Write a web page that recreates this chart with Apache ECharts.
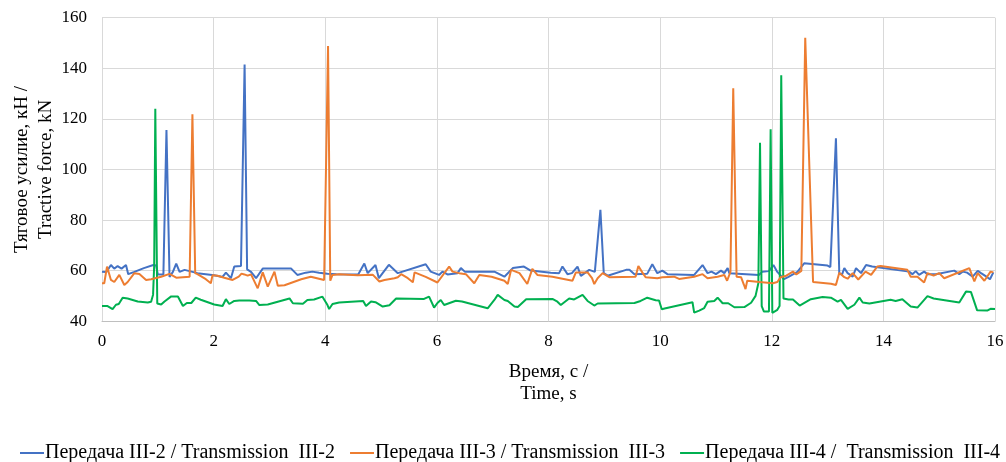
<!DOCTYPE html>
<html>
<head>
<meta charset="utf-8">
<script src="https://cdn.jsdelivr.net/npm/echarts@6/dist/echarts.min.js"></script>
<style>html,body{margin:0;padding:0;background:#fff}#c{width:1006px;height:462px}</style>
</head>
<body>
<div id="c"></div>
<script>
// Tick settings
const xTicks = [0, 2, 4, 6, 8, 10, 12, 14, 16];
const yTicks = [40, 60, 80, 100, 120, 140, 160];

const seriesNames = [
  'Передача III-2 / Transmission  III-2',
  'Передача III-3 / Transmission  III-3',
  'Передача III-4 /  Transmission  III-4'
];

// Передача III-2 (time, s / force, kN)
const t2 = [0,0.08,0.16,0.22,0.28,0.35,0.43,0.47,0.58,0.75,0.92,0.97,1.0,1.1,1.155,1.175,1.21,1.27,1.33,1.39,1.48,1.71,2.01,2.1,2.16,2.22,2.31,2.37,2.49,2.52,2.555,2.6,2.67,2.76,2.88,3.39,3.5,3.65,3.77,3.89,4.04,4.2,4.59,4.70,4.76,4.90,4.96,5.14,5.30,5.80,5.89,6.04,6.10,6.19,6.37,6.43,6.50,7.03,7.21,7.36,7.56,7.68,8.04,8.19,8.25,8.34,8.42,8.52,8.58,8.73,8.83,8.93,8.99,9.06,9.39,9.45,9.54,9.77,9.86,9.95,10.04,10.13,10.61,10.76,10.85,10.92,11.0,11.09,11.15,11.21,11.24,11.77,11.83,11.95,12.03,12.1,12.22,12.3,12.46,12.58,13.0,13.05,13.15,13.21,13.26,13.3,13.36,13.45,13.51,13.6,13.69,13.8,14.46,14.52,14.58,14.64,14.73,14.79,14.94,15.27,15.36,15.42,15.5,15.6,15.69,15.75,15.86,15.91,15.97];
const v2 = [59.6,59.5,62.2,60.8,61.8,60.8,62.2,58.6,59.5,61,62.2,62,58.5,58.5,115.6,115.6,57.5,59.5,62.8,59.5,60.3,59,58.2,57.8,57.5,59.2,57,61.6,61.8,62,141.5,60.5,59.5,57,60.8,60.8,58.3,59.2,59.6,59.2,58.8,58.6,58.5,62.8,59,62.2,57,62.3,59,62.5,59.6,58.3,59.6,58.5,59,61,59.6,59.6,57.6,61,61.6,60,59.2,59,61.6,58.6,59,61.6,57.9,60.3,59.5,84,59,58,60.3,60.3,58.6,58.8,62.5,59,60,58.6,58.3,62.2,59,59.6,58.6,60,59,61,59,58.3,59.6,59.8,62.2,59.5,56.6,57.5,59.5,62.9,62,61.4,112.3,58.8,58.5,61,59,57.6,61,59,62.2,61.6,59.6,58.6,59.8,58.3,59.6,58.6,58.6,60,58.6,59.6,59.2,57.6,59.9,59,57.4,56.6,59.3];

// Передача III-3
const t3 = [0,0.04,0.09,0.16,0.22,0.31,0.4,0.46,0.58,0.67,0.79,0.88,1.06,1.21,1.33,1.57,1.62,1.67,1.71,1.86,1.95,1.98,2.07,2.19,2.34,2.45,2.5,2.55,2.61,2.67,2.79,2.88,2.97,3.09,3.15,3.27,3.57,3.74,3.98,4.0,4.05,4.09,4.13,4.25,4.58,4.85,4.97,5.06,5.24,5.30,5.36,5.48,5.57,5.60,5.80,6.01,6.22,6.28,6.40,6.52,6.67,6.76,6.98,7.21,7.27,7.33,7.48,7.62,7.71,7.80,8.07,8.43,8.49,8.70,8.78,8.82,8.88,8.97,9.09,9.56,9.61,9.68,9.74,9.95,10.04,10.25,10.34,10.61,10.76,10.85,11.03,11.15,11.2,11.26,11.31,11.37,11.45,11.50,11.53,11.56,11.78,12.02,12.1,12.16,12.26,12.38,12.44,12.53,12.6,12.74,13.06,13.15,13.21,13.3,13.36,13.45,13.55,13.68,13.78,13.89,13.95,14.43,14.49,14.61,14.73,14.79,14.9,15.0,15.09,15.54,15.63,15.69,15.81,15.92,15.97];
const v3 = [55,55,61.6,56.3,55.5,58.3,54.3,55.5,59,58.7,56.3,56.6,57.6,58.7,57.2,57.6,121.8,59,58.6,56.6,55,58.2,58,57.2,56.3,57.6,58.8,58.5,58,58.5,53,59.3,53.7,59.6,54,54.2,56.6,57.6,56.3,56.3,148.8,56,58.3,58.6,58.2,58.4,55.7,56.3,57,57.4,58.6,57,55.4,59.3,57.5,55.3,61.6,59.6,59,58.6,55,58.3,57.6,56,54.7,60.3,59,54.7,60.7,58.3,57.6,56,59.3,59.3,57,54.7,57,59,57.4,57.6,61.8,59.3,57.4,57,57.4,57.6,56.7,57.6,58.6,57,57.6,58.3,56,59.5,132.1,57.6,57.4,54.5,52.7,56,55.5,55,55.5,57.4,58,59.6,58.5,59.9,152.1,55.5,54.8,54.3,59.2,57.4,56.8,59,56.5,59.6,58.3,61.6,61.8,60.3,57.6,57.6,55.3,59,58,59,57,61,55.7,59,56,59.6,59.3];

// Передача III-4
const t4 = [0,0.1,0.19,0.25,0.3,0.37,0.46,0.64,0.82,0.88,0.915,0.935,0.955,0.97,0.99,1.0,1.06,1.12,1.24,1.36,1.45,1.52,1.6,1.68,1.77,2.01,2.16,2.22,2.28,2.37,2.46,2.64,2.76,2.82,2.97,3.36,3.42,3.6,3.68,3.8,3.95,4.04,4.07,4.13,4.25,4.68,4.73,4.82,4.9,5.03,5.15,5.27,5.77,5.86,5.95,6.01,6.07,6.13,6.34,6.45,6.91,7.03,7.09,7.21,7.27,7.39,7.45,7.6,8.07,8.16,8.22,8.37,8.46,8.61,8.7,8.82,8.88,9.54,9.65,9.77,9.92,9.98,10.03,10.08,10.58,10.61,10.7,10.79,10.85,10.97,11.03,11.12,11.22,11.33,11.51,11.63,11.71,11.76,11.79,11.82,11.86,11.95,11.98,12.01,12.1,12.14,12.17,12.21,12.3,12.38,12.46,12.5,12.7,12.91,13.06,13.18,13.24,13.36,13.48,13.57,13.63,13.75,14.13,14.22,14.34,14.49,14.61,14.79,14.9,15.36,15.48,15.57,15.68,15.86,15.92,16.0];
const v4 = [46,46,44.8,46.5,46.8,49.3,49,47.8,47.4,47.7,50.5,62,124,124,47,46.4,46.6,47.8,49.8,49.8,46,47.2,47.2,49.3,48.5,46.6,46,48.7,46.8,48,48.2,48.2,48,46.4,46.6,49,47.1,46.9,48.4,48.6,49.7,46.4,44.8,46.8,47.4,48,46,47.8,47.5,45.8,46.3,49,48.8,49.7,45.4,47.2,48.4,46.4,48.1,47.8,45.1,48.4,50.4,48.4,48,45.8,45.6,48.7,48.8,47.7,46.4,49,48.6,50.4,48,46.2,47,47.2,48,49.3,48.3,48.2,44.7,45,47.5,43.4,44.2,45.2,47.7,48,49.3,47.1,47.1,45.5,45.6,47.3,50,55,110.6,46,43.8,43.8,115.9,43.3,44.5,46,137.2,49,48.6,48.6,47,46.2,48.7,49.6,49.3,47.7,48.4,44.9,46.5,49.3,47.4,47,48.5,48,48.7,45.8,45.4,49.9,49,47.4,51.7,51.5,44.3,44.2,44.9,44.8];

const colors = ['#4472C4', '#ED7D31', '#00B050'];
const zip = (t, v) => t.map((x, i) => [x, v[i]]);
const seriesData = [zip(t2, v2), zip(t3, v3), zip(t4, v4)];

const font = 'Liberation Serif';
const chart = echarts.init(document.getElementById('c'), null, { renderer: 'canvas' });
chart.setOption({
  animation: false,
  color: colors,
  grid: { left: 102, right: 11, top: 17.7, bottom: 140.8, containLabel: false, outerBoundsMode: 'none' },
  xAxis: {
    type: 'value', min: xTicks[0], max: xTicks[xTicks.length - 1], interval: 2,
    name: 'Время, с /\nTime, s', nameLocation: 'middle', nameGap: 40, nameMoveOverlap: false,
    nameTextStyle: { fontFamily: font, fontSize: 19, color: '#000', lineHeight: 22, verticalAlign: 'top' },
    axisLine: { show: true, lineStyle: { color: '#bfbfbf', width: 1 } },
    axisTick: { show: false },
    axisLabel: { fontFamily: font, fontSize: 17, color: '#000', margin: 12 },
    splitLine: { show: true, lineStyle: { color: '#d9d9d9', width: 1 } }
  },
  yAxis: {
    type: 'value', min: yTicks[0], max: yTicks[yTicks.length - 1], interval: 20,
    name: 'Тяговое усилие, кН /\nTractive force, kN', nameLocation: 'middle', nameGap: 44, nameRotate: 90,
    nameMoveOverlap: false,
    nameTextStyle: { fontFamily: font, fontSize: 19, color: '#000', lineHeight: 24 },
    axisLine: { show: false },
    axisTick: { show: false },
    axisLabel: { fontFamily: font, fontSize: 17, color: '#000', margin: 15 },
    splitLine: { show: true, lineStyle: { color: '#d9d9d9', width: 1 } }
  },
  legend: {
    top: 438, left: 15, itemGap: 15, itemWidth: 24, itemHeight: 2, icon: 'rect',
    textStyle: { fontFamily: font, fontSize: 20, color: '#000', padding: [0, 0, 0, -4] },
    data: seriesNames
  },
  series: seriesNames.map((n, i) => ({
    name: n, type: 'line', data: seriesData[i], showSymbol: false, symbol: 'none',
    smooth: false, lineStyle: { width: 2, color: colors[i] }, z: 2 + (i === 2 ? 0 : i)
  }))
});
</script>
</body>
</html>
